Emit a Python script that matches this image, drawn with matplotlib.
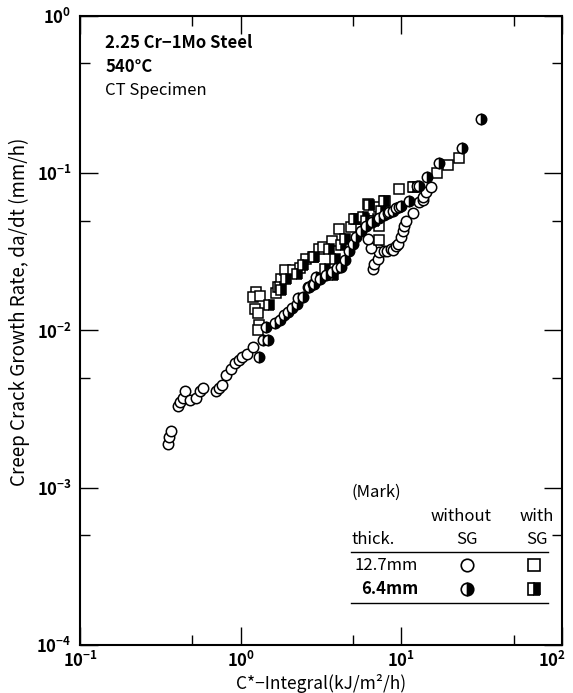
import matplotlib
matplotlib.use("Agg")
import matplotlib.pyplot as plt
import matplotlib.transforms as mtransforms
from matplotlib.ticker import LogLocator, NullFormatter
from matplotlib.lines import Line2D

plt.rcParams['font.family'] = ['Noto Sans CJK JP', 'DejaVu Sans']

# 12.7mm, without SG (open circles)
oc_x = [0.355, 0.36, 0.37, 0.408, 0.422, 0.438, 0.453, 0.487, 0.525, 0.556, 0.583,
        0.706, 0.733, 0.765, 0.815, 0.867, 0.927, 0.972, 1.02, 1.09, 1.19,
        6.65, 6.80, 7.13, 7.13, 7.30, 6.48, 6.18, 7.84, 8.11, 8.63, 8.83, 9.27,
        9.48, 9.96, 10.2, 10.4, 10.7, 11.8, 12.9, 13.6, 13.7, 14.2, 15.3]
oc_y = [0.0019, 0.0021, 0.0023, 0.0033, 0.0035, 0.0037, 0.0041, 0.0036, 0.0037, 0.0041, 0.0043,
        0.0041, 0.0043, 0.0045, 0.0052, 0.0057, 0.0062, 0.0065, 0.0068, 0.0071, 0.0078,
        0.0245, 0.0265, 0.0286, 0.0330, 0.0315, 0.0334, 0.0382, 0.0322, 0.0322, 0.0330, 0.0327, 0.0347,
        0.0355, 0.0392, 0.0431, 0.0464, 0.0499, 0.0558, 0.0653, 0.0678, 0.0702, 0.0755, 0.0812]

# 6.4mm, without SG (half-filled circles)
hc_x = [1.30, 1.375, 1.48, 1.43, 1.63, 1.75, 1.85, 1.97, 2.09, 2.24, 2.27, 2.44,
        2.62, 2.68, 2.81, 2.88, 2.95, 3.10, 3.41, 3.7, 4.0, 4.22, 4.43, 4.75, 4.98,
        5.23, 5.62, 6.0, 6.6, 7.3, 7.8, 8.22, 8.42, 8.83, 9.27, 9.72, 9.96, 11.2,
        12.6, 12.9, 14.4, 17.2, 24.0, 31.3]
hc_y = [0.0068, 0.0087, 0.0087, 0.0106, 0.0111, 0.0116, 0.0125, 0.0131, 0.0140, 0.0148, 0.0160, 0.0163,
        0.0189, 0.0189, 0.0198, 0.0198, 0.0219, 0.0213, 0.0224, 0.0235, 0.0250, 0.0253, 0.0279, 0.0322, 0.0355,
        0.0392, 0.0431, 0.046, 0.049, 0.052, 0.054, 0.0558, 0.0564, 0.0577, 0.0598, 0.0607, 0.0621, 0.0668,
        0.0824, 0.0831, 0.0953, 0.1157, 0.1455, 0.222]

# 12.7mm, with SG (open squares)
os_x = [1.24, 1.20, 1.31, 1.22, 1.28, 1.30, 1.28, 1.67, 1.70, 1.79, 1.88, 2.11, 2.33,
        2.56, 2.81, 3.06, 3.24, 3.71, 4.12, 4.87, 5.23, 5.89, 6.18, 7.13, 7.23, 7.23,
        7.30, 7.96, 9.72, 12.0, 16.7, 19.6, 22.9]
os_y = [0.0176, 0.0163, 0.0166, 0.0136, 0.0130, 0.0108, 0.0100, 0.0172, 0.0189, 0.0213, 0.0241, 0.0241, 0.0250,
        0.0286, 0.0293, 0.0330, 0.0339, 0.0373, 0.0442, 0.0453, 0.0512, 0.0512, 0.0637, 0.0512, 0.0464, 0.0377,
        0.0607, 0.0668, 0.0792, 0.0812, 0.100, 0.1124, 0.1245]

# 6.4mm, with SG (half-filled squares)
hs_x = [1.51, 1.75, 1.79, 1.92, 2.24, 2.44, 2.88, 3.33, 3.57, 3.74, 3.89, 4.22,
        4.43, 5.11, 5.75, 6.03, 6.27, 6.80, 7.48, 7.84, 11.9]
hs_y = [0.0145, 0.0189, 0.0180, 0.0213, 0.0230, 0.0262, 0.0293, 0.0247, 0.0330, 0.0224, 0.0286, 0.0350,
        0.0380, 0.0512, 0.0525, 0.0499, 0.0627, 0.0499, 0.0577, 0.0668, 0.082]

x_ticks = [0.1, 1, 10, 100]
y_ticks = [1e-4, 1e-3, 1e-2, 1e-1, 1]

fig = plt.figure(figsize=(5.73, 6.93), dpi=100)
ax = fig.add_axes([0.1396, 0.0693, 0.8412, 0.9076])

mk = dict(ls='none', ms=7.5, mec='black', mew=1.1)
ax.plot(oc_x, oc_y, marker='o', mfc='white', **mk)
ax.plot(os_x, os_y, marker='s', mfc='white', **mk)
ax.plot(hs_x, hs_y, marker='s', fillstyle='right', mfc='black', markerfacecoloralt='white', **mk)
ax.plot(hc_x, hc_y, marker='o', fillstyle='right', mfc='black', markerfacecoloralt='white', **mk)

ax.set_xscale('log')
ax.set_yscale('log')
ax.set_xlim(0.1, 100)
ax.set_ylim(1e-4, 1)
ax.set_xticks(x_ticks)
ax.set_yticks(y_ticks)
for axis in (ax.xaxis, ax.yaxis):
    axis.set_minor_locator(LogLocator(base=10, subs=[5], numticks=10))
    axis.set_minor_formatter(NullFormatter())
ax.tick_params(which='both', direction='in', top=True, right=True, labelsize=12)
ax.tick_params(which='major', length=13, width=1.0)
ax.tick_params(which='minor', length=7, width=1.0)
ax.tick_params(axis='y', pad=6)
ax.tick_params(axis='x', pad=4)
fig.canvas.draw()
for lbl in ax.get_xticklabels() + ax.get_yticklabels():
    lbl.set_fontweight('bold')
# keep the last x label inside the figure
last = ax.xaxis.get_major_ticks()[-1].label1
last.set_transform(last.get_transform() + mtransforms.ScaledTranslation(-7 / 72, 0, fig.dpi_scale_trans))
for s in ax.spines.values():
    s.set_linewidth(1.5)

ax.set_xlabel('C*\u2212Integral(kJ/m\u00b2/h)', fontsize=12.5)
ax.xaxis.set_label_coords(0.5, -0.046)
ax.set_ylabel('Creep Crack Growth Rate, da/dt (mm/h)', fontsize=13.5)
ax.yaxis.set_label_coords(-0.104, 0.529)

tk = dict(transform=ax.transAxes, fontsize=12, va='center')
ax.text(0.052, 0.957, '2.25 Cr\u22121Mo Steel', fontweight='bold', **tk)
ax.text(0.052, 0.919, '540\u00b0C', fontweight='bold', **tk)
ax.text(0.052, 0.882, 'CT Specimen', **tk)

# legend table
ax.text(0.564, 0.243, '(Mark)', **tk)
ax.text(0.790, 0.2035, 'without', ha='center', **tk)
ax.text(0.948, 0.2035, 'with', ha='center', **tk)
ax.text(0.564, 0.167, 'thick.', **tk)
ax.text(0.803, 0.167, 'SG', ha='center', **tk)
ax.text(0.948, 0.167, 'SG', ha='center', **tk)
ax.text(0.701, 0.127, '12.7mm', ha='right', **tk)
ax.text(0.701, 0.089, '6.4mm', ha='right', fontweight='bold', **tk)
for yy in (0.148, 0.067):
    ax.add_line(Line2D([0.562, 0.971], [yy, yy], transform=ax.transAxes, color='black', lw=1.0))
lk = dict(transform=ax.transAxes, ls='none', ms=9, mec='black', mew=1.2)
ax.plot([0.803], [0.127], marker='o', mfc='white', **lk)
ax.plot([0.942], [0.127], marker='s', mfc='white', **lk)
ax.plot([0.803], [0.089], marker='o', fillstyle='right', mfc='black', markerfacecoloralt='white', **lk)
ax.plot([0.942], [0.089], marker='s', fillstyle='right', mfc='black', markerfacecoloralt='white', **lk)

fig.savefig('out.png', dpi=100)
